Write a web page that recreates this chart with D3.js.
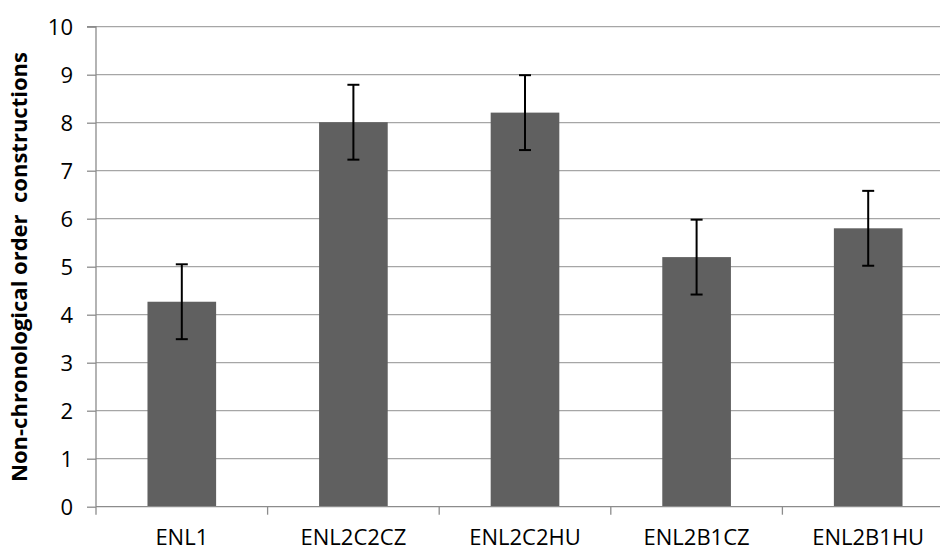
<!DOCTYPE html>
<html><head><meta charset="utf-8">
<script src="https://cdn.jsdelivr.net/npm/d3@7/dist/d3.min.js"></script>
<style>body{margin:0;background:#fff;} svg{display:block;}</style>
</head><body>
<svg id="c" width="940" height="551"></svg>
<script>
const categories = ["ENL1","ENL2C2CZ","ENL2C2HU","ENL2B1CZ","ENL2B1HU"];
const values = [4.27, 8.01, 8.21, 5.20, 5.80];
const errors = [0.78, 0.78, 0.78, 0.78, 0.78];
const yTicks = [0,1,2,3,4,5,6,7,8,9,10];
const yTitle = "Non-chronological order\u00a0 constructions";

const svg = d3.select("#c");
const mLeft = 96, mRight = 954, mTop = 26.7, mBottom = 506.7;
const x = d3.scaleBand().domain(categories).range([mLeft, mRight]).paddingInner(0).paddingOuter(0);
const y = d3.scaleLinear().domain([0,10]).range([mBottom, mTop]);
const font = "'Open Sans', sans-serif";

// gridlines
svg.append("g").selectAll("line").data(yTicks.filter(d=>d>0)).join("line")
  .attr("x1", mLeft).attr("x2", mRight)
  .attr("y1", d=>y(d)).attr("y2", d=>y(d))
  .attr("stroke", "#a6a6a6").attr("stroke-width", 1.3);

// bars
const bw = x.step()*0.4;
svg.append("g").selectAll("rect").data(categories).join("rect")
  .attr("x", d=>x(d)+x.bandwidth()/2 - bw/2)
  .attr("width", bw)
  .attr("y", (d,i)=>y(values[i]))
  .attr("height", (d,i)=>y(0)-y(values[i]))
  .attr("fill", "#606060");

// y axis
const yAxis = d3.axisLeft(y).tickValues(yTicks).tickSize(9).tickPadding(14).tickFormat(d3.format("d"));
const gy = svg.append("g").attr("transform", `translate(${mLeft},0)`).call(yAxis);
gy.select(".domain").attr("stroke", "#8c8c8c").attr("stroke-width", 1.3).attr("d", `M-9,${mTop}H0V${mBottom}`);
gy.selectAll(".tick line").attr("stroke", "#8c8c8c").attr("stroke-width", 1.3);
gy.selectAll(".tick text").attr("font-family", font).attr("font-size", 22).attr("fill", "#000").attr("dy", "0.35em");

// x axis
const xAxis = d3.axisBottom(x).tickSize(0).tickPadding(23);
const gx = svg.append("g").attr("transform", `translate(0,${mBottom})`).call(xAxis);
gx.select(".domain").attr("stroke", "#8c8c8c").attr("stroke-width", 1.3).attr("d", `M${mLeft},0H${mRight}`);
gx.selectAll(".tick text").attr("font-family", font).attr("font-size", 22).attr("fill", "#000");
// category boundary ticks
const bounds = categories.map(c=>x(c)).concat([mRight]);
gx.append("g").selectAll("line").data(bounds).join("line")
  .attr("x1", d=>d).attr("x2", d=>d).attr("y1", 0).attr("y2", 8)
  .attr("stroke", "#8c8c8c").attr("stroke-width", 1.3);

// error bars
const eg = svg.append("g").attr("stroke", "#000").attr("stroke-width", 2);
categories.forEach((c,i)=>{
  const cx = x(c)+x.bandwidth()/2;
  const hi = y(values[i]+errors[i]), lo = y(values[i]-errors[i]);
  eg.append("line").attr("x1", cx).attr("x2", cx).attr("y1", hi).attr("y2", lo);
  eg.append("line").attr("x1", cx-6).attr("x2", cx+6).attr("y1", hi).attr("y2", hi);
  eg.append("line").attr("x1", cx-6).attr("x2", cx+6).attr("y1", lo).attr("y2", lo);
});

// y title
svg.append("text").attr("transform", "translate(27,267) rotate(-90)")
  .attr("text-anchor", "middle").attr("font-family", font).attr("font-weight", "bold")
  .attr("font-size", 22).attr("fill", "#000").text(yTitle);
</script>
</body></html>
